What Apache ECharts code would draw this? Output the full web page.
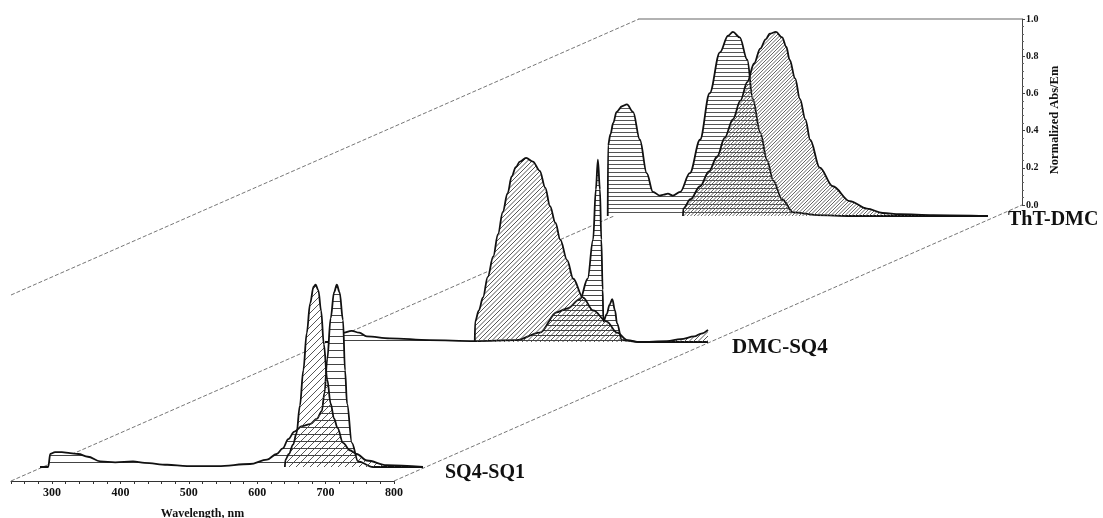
<!DOCTYPE html>
<html><head><meta charset="utf-8">
<script src="https://cdn.jsdelivr.net/npm/echarts@6/dist/echarts.min.js"></script>
<style>html,body{margin:0;padding:0;background:#fff}#c{width:1103px;height:518px}</style>
</head><body><div id="c"></div>
<script>
// ---------------- DATA ----------------
const waveTicks = [300, 400, 500, 600, 700, 800];
const layerNames = ['SQ4-SQ1', 'DMC-SQ4', 'ThT-DMC'];
const valueAxisName = 'Normalized Abs/Em';
const waveAxisName = 'Wavelength, nm';

// SQ4-SQ1 (front)
const sq41AbsNm  = [240,252,255,262,272,284,296,310,328,350,376,393,426,455,474,500,547,572,586,595,603,612,623,635,645,652,656,660,665,670,674,678,683,686,689,696,705,727,800];
const sq41AbsVal = [0,0,0.07,0.08,0.08,0.075,0.07,0.055,0.03,0.025,0.03,0.022,0.012,0.005,0.005,0.005,0.016,0.04,0.07,0.1,0.15,0.19,0.22,0.23,0.26,0.3,0.4,0.58,0.8,0.94,0.98,0.94,0.79,0.52,0.34,0.13,0.03,0,0];
const sq41EmNm   = [598,599,604,610,615,620,625,630,635,640,643,647,651,655,660,665,670,675,683,693,703,718,747,800];
const sq41EmVal  = [0,0.04,0.07,0.12,0.18,0.33,0.52,0.72,0.88,0.97,0.98,0.95,0.84,0.66,0.47,0.34,0.26,0.21,0.13,0.09,0.07,0.035,0.01,0];

// DMC-SQ4 (middle)
const dmcAbsNm  = [240,254,257,266,279,290,301,335,393,459,520,554,579,594,613,624,632,636,639,642,644,646,647,652,656,660,664,667,674,700,800];
const dmcAbsVal = [0,0,0.03,0.05,0.06,0.05,0.03,0.02,0.01,0.005,0.01,0.05,0.16,0.18,0.23,0.34,0.55,0.82,0.98,0.82,0.55,0.28,0.11,0.15,0.2,0.23,0.17,0.1,0.01,0,0];
const dmcEmNm   = [459,459.5,465,471,478,486,493,500,507,513,519,525,534,544,554,562,569,577,584,594,603,617,632,652,667,682,700,740,760,780,790,800];
const dmcEmVal  = [0,0.11,0.17,0.24,0.35,0.46,0.58,0.70,0.80,0.89,0.94,0.97,0.99,0.97,0.92,0.83,0.73,0.64,0.55,0.44,0.34,0.24,0.17,0.11,0.05,0.01,0,0.005,0.015,0.03,0.045,0.065];

// ThT-DMC (back)
const thtAbsNm  = [244,244.5,248,252,257,265,272,281,291,301,310,320,326,332,339,350,364,379,393,408,420,427,437,448,456,467,477,486,499,515,550,600,800];
const thtAbsVal = [0,0.38,0.44,0.50,0.56,0.59,0.60,0.56,0.41,0.23,0.13,0.11,0.115,0.12,0.11,0.13,0.23,0.41,0.66,0.88,0.97,0.99,0.96,0.84,0.63,0.45,0.30,0.19,0.09,0.02,0.005,0,0];
const thtEmNm   = [354,354.5,365,379,392,404,415,427,438,448,458,467,475,481,490,499,505,510,518,525,533,540,554,573,598,623,646,671,720,800];
const thtEmVal  = [0,0.04,0.09,0.16,0.24,0.32,0.42,0.52,0.62,0.72,0.82,0.90,0.95,0.98,0.99,0.96,0.91,0.84,0.74,0.63,0.52,0.41,0.26,0.16,0.08,0.04,0.016,0.01,0.005,0];

// ---------------- LAYOUT ----------------
const FACE = {left: 11, bottom: 481, width: 383, height: 186};
const BACK = {dx: 628, dy: -276};
const LAYER_OFF = [[29, -14], [314, -139], [594, -265]];
const LABEL_POS = [{gap: 22, dy: 6, size: 20}, {gap: 24, dy: 6, size: 21}, {gap: 20, dy: 4, size: 20}];
const HATCH = [{h: 7, d: 7, c: '#444'}, {h: 5, d: 4.5, c: '#444'}, {h: 4, d: 3.5, c: '#555'}];
const SERIF = "'Liberation Serif','DejaVu Serif','Times New Roman',serif";
const INK = '#111';

function hatch(kind, s, color) {
  const c = document.createElement('canvas');
  if (kind === 'h') {
    c.width = 4; c.height = Math.round(s);
    const g = c.getContext('2d');
    g.fillStyle = color; g.fillRect(0, 0, 4, 1);
  } else {
    const n = Math.round(s * 2); c.width = n; c.height = n;
    const g = c.getContext('2d');
    g.strokeStyle = color; g.lineWidth = 0.9;
    g.beginPath();
    for (let k = -2; k <= 2; k++) {
      const o = k * n / 2;
      g.moveTo(o - 1, n + 1); g.lineTo(o + n + 1, -1);
    }
    g.stroke();
  }
  return {image: c, repeat: 'repeat'};
}
const zip = (a, b) => a.map((x, i) => [x, b[i]]);

const layerCurves = [
  [{nm: sq41AbsNm, v: sq41AbsVal, k: 'h'}, {nm: sq41EmNm, v: sq41EmVal, k: 'd'}],
  [{nm: dmcAbsNm, v: dmcAbsVal, k: 'h'}, {nm: dmcEmNm, v: dmcEmVal, k: 'd'}],
  [{nm: thtAbsNm, v: thtAbsVal, k: 'h'}, {nm: thtEmNm, v: thtEmVal, k: 'd'}]
];

const grids = [], xAxes = [], yAxes = [], series = [], graphics = [];
// grid 0: front face (wavelength axis)
grids.push({left: FACE.left, top: FACE.bottom - FACE.height, width: FACE.width, height: FACE.height, outerBoundsMode: 'none'});
xAxes.push({gridIndex: 0, type: 'value', min: 240, max: 800, interval: 20,
  name: waveAxisName, nameLocation: 'middle', nameGap: 27,
  nameTextStyle: {fontFamily: SERIF, fontWeight: 'bold', fontSize: 12, color: INK},
  axisLine: {onZero: false, lineStyle: {color: '#333', width: 1}},
  axisTick: {length: 3, lineStyle: {color: '#333'}},
  axisLabel: {margin: 6, fontFamily: SERIF, fontWeight: 'bold', fontSize: 12, color: INK,
    formatter: v => waveTicks.includes(v) ? String(v) : ''},
  splitLine: {show: false}});
yAxes.push({gridIndex: 0, type: 'value', min: 0, max: 1, show: false});
// grid 1: back face (value axis)
const backLeft = FACE.left + BACK.dx, backTop = FACE.bottom - FACE.height + BACK.dy;
grids.push({left: backLeft, top: backTop, width: FACE.width, height: FACE.height, outerBoundsMode: 'none'});
xAxes.push({gridIndex: 1, type: 'value', min: 240, max: 800, position: 'top',
  axisLine: {onZero: false, lineStyle: {color: '#999', width: 1.5}}, axisTick: {show: false}, axisLabel: {show: false}, splitLine: {show: false}});
yAxes.push({gridIndex: 1, type: 'value', min: 0, max: 1, interval: 0.2, position: 'right',
  axisLine: {show: true, onZero: false, lineStyle: {color: '#444', width: 1}},
  axisTick: {show: true, length: 3, lineStyle: {color: '#444'}},
  minorTick: {show: true, splitNumber: 5, length: 2, lineStyle: {color: '#666'}},
  axisLabel: {margin: 4, fontFamily: SERIF, fontWeight: 'bold', fontSize: 10, color: INK, formatter: v => v.toFixed(1)},
  splitLine: {show: false}});
graphics.push({type: 'text', z: 10, silent: true, x: backLeft + FACE.width + 33, y: backTop + FACE.height / 2 + 8, rotation: Math.PI / 2,
  style: {text: valueAxisName, fill: INK, font: "bold 12.5px " + SERIF, align: 'center', verticalAlign: 'middle'}});

// data layers, drawn back to front
let z = 3;
for (const L of [2, 1, 0]) {
  const gi = grids.length;
  const [dx, dy] = LAYER_OFF[L];
  grids.push({left: FACE.left + dx, top: FACE.bottom + dy - FACE.height, width: FACE.width, height: FACE.height, outerBoundsMode: 'none'});
  xAxes.push({gridIndex: gi, type: 'value', min: 240, max: 800, show: false});
  yAxes.push({gridIndex: gi, type: 'value', min: 0, max: 1, show: false});
  const P = LABEL_POS[L];
  graphics.push({type: 'text', z: 10, silent: true, x: FACE.left + dx + FACE.width + P.gap, y: FACE.bottom + dy + P.dy,
    style: {text: layerNames[L], fill: INK, font: "bold " + P.size + "px " + SERIF, align: 'left', verticalAlign: 'middle'}});
  const curves = layerCurves[L];
  for (const cv of curves) {
    series.push({type: 'line', xAxisIndex: gi, yAxisIndex: gi, data: zip(cv.nm, cv.v), z: z++,
      symbol: 'none', smooth: 0.35, smoothMonotone: 'x', silent: true,
      lineStyle: {width: 0, opacity: 0}, areaStyle: {color: '#fff', opacity: 1}});
  }
  for (const cv of curves) {
    const H = HATCH[L];
    series.push({type: 'line', xAxisIndex: gi, yAxisIndex: gi, data: zip(cv.nm, cv.v), z: z++,
      symbol: 'none', smooth: 0.35, smoothMonotone: 'x', silent: true,
      lineStyle: {color: INK, width: 1.8}, areaStyle: {color: hatch(cv.k, cv.k === 'h' ? H.h : H.d, H.c), opacity: 1}});
  }
}

// 3D frame edges (oblique depth lines)
const fl = FACE.left, fr = FACE.left + FACE.width, fb = FACE.bottom, ft = FACE.bottom - FACE.height;
const edge = (x, y) => ({type: 'line', z: 1, silent: true,
  shape: {x1: x, y1: y, x2: x + BACK.dx, y2: y + BACK.dy},
  style: {stroke: '#777', lineWidth: 1, lineDash: [4, 2]}});
graphics.push(edge(fl, ft), edge(fl, fb), edge(fr, fb));

const chart = echarts.init(document.getElementById('c'), null, {renderer: 'canvas'});
chart.setOption({
  animation: false,
  backgroundColor: '#fff',
  grid: grids, xAxis: xAxes, yAxis: yAxes, series: series,
  graphic: graphics
});
</script></body></html>
